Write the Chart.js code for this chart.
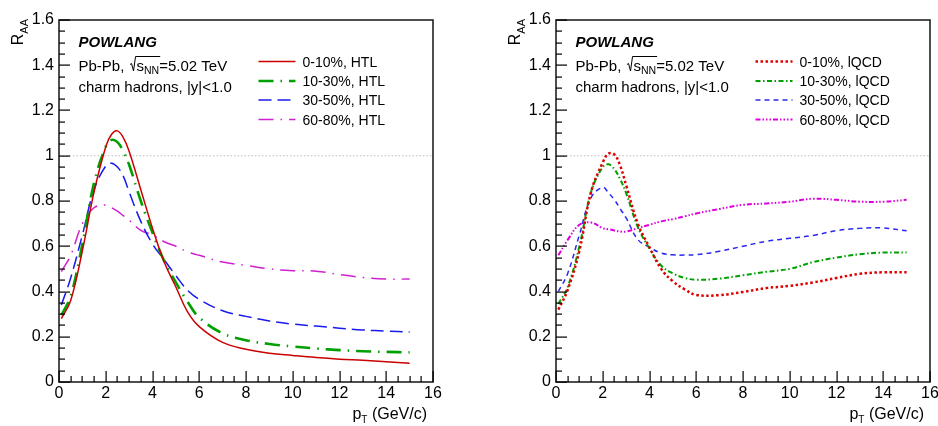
<!DOCTYPE html>
<html>
<head>
<meta charset="utf-8">
<script src="https://cdn.jsdelivr.net/npm/chart.js@4/dist/chart.umd.min.js"></script>
<style>
  html, body { margin: 0; padding: 0; background: #fff; }
  #wrap { position: relative; width: 938px; height: 426px; }
  canvas { position: absolute; top: 0; }
  #htl { left: 0; }
  #lqcd { left: 469px; }
</style>
</head>
<body>
<div id="wrap">
  <canvas id="htl" width="469" height="426"></canvas>
  <canvas id="lqcd" width="469" height="426"></canvas>
</div>
<script>
// pT grid (GeV/c) shared by all curves
const ptGrid = [0.1, 0.5, 1, 1.5, 2, 2.25, 2.5, 2.75, 3, 3.5, 4, 4.5, 5, 5.5, 6, 7, 8, 9, 10, 11, 12, 13, 14, 15];

// HTL transport coefficients
const htl_0_10  = [0.28, 0.36, 0.58, 0.84, 1.04, 1.095, 1.11, 1.08, 1.02, 0.85, 0.68, 0.53, 0.42, 0.31, 0.245, 0.175, 0.145, 0.127, 0.117, 0.108, 0.101, 0.096, 0.09, 0.083];
const htl_10_30 = [0.295, 0.38, 0.61, 0.88, 1.04, 1.07, 1.06, 1.02, 0.96, 0.80, 0.66, 0.535, 0.44, 0.355, 0.285, 0.215, 0.185, 0.168, 0.157, 0.148, 0.141, 0.136, 0.133, 0.131];
const htl_30_50 = [0.34, 0.46, 0.65, 0.85, 0.955, 0.967, 0.95, 0.91, 0.84, 0.71, 0.61, 0.54, 0.47, 0.405, 0.365, 0.315, 0.29, 0.27, 0.256, 0.247, 0.238, 0.23, 0.225, 0.221];
const htl_60_80 = [0.488, 0.56, 0.70, 0.77, 0.782, 0.77, 0.755, 0.735, 0.715, 0.67, 0.65, 0.62, 0.60, 0.575, 0.56, 0.53, 0.515, 0.50, 0.492, 0.49, 0.475, 0.462, 0.455, 0.455];

// lattice QCD transport coefficients
const lqcd_0_10  = [0.32, 0.407, 0.58, 0.84, 0.97, 1.01, 1.005, 0.955, 0.87, 0.70, 0.595, 0.50, 0.445, 0.41, 0.385, 0.384, 0.398, 0.415, 0.425, 0.44, 0.46, 0.478, 0.485, 0.485];
const lqcd_10_30 = [0.345, 0.42, 0.60, 0.84, 0.95, 0.962, 0.94, 0.895, 0.835, 0.685, 0.59, 0.515, 0.48, 0.46, 0.452, 0.457, 0.472, 0.487, 0.50, 0.53, 0.55, 0.565, 0.572, 0.572];
const lqcd_30_50 = [0.40, 0.48, 0.65, 0.815, 0.86, 0.835, 0.805, 0.765, 0.725, 0.63, 0.595, 0.57, 0.562, 0.561, 0.563, 0.578, 0.60, 0.622, 0.635, 0.648, 0.669, 0.679, 0.681, 0.668];
const lqcd_60_80 = [0.56, 0.628, 0.695, 0.705, 0.68, 0.675, 0.67, 0.665, 0.665, 0.68, 0.695, 0.71, 0.72, 0.732, 0.745, 0.765, 0.783, 0.789, 0.797, 0.81, 0.805, 0.797, 0.797, 0.805];

const centralities = ["0-10%", "10-30%", "30-50%", "60-80%"];
const unityLine = [1, 1];
const unityX = [0, 16];

const FONT = "'Liberation Sans', Arial, sans-serif";

const toPoints = (ys) => ys.map((y, i) => ({ x: ptGrid[i], y: y }));

function curve(label, ys, color, width, dash) {
    return {
        label: label,
        data: toPoints(ys),
        borderColor: color,
        borderWidth: width,
        borderDash: dash,
        borderCapStyle: "butt",
        pointRadius: 0,
        tension: 0.4,
        fill: false
    };
}

// frame, inner ticks, texts and legend in ROOT style
const rootStyle = {
    id: "rootStyle",
    afterDraw(chart) {
        const ctx = chart.ctx;
        const a = chart.chartArea;
        const xs = chart.scales.x;
        const ys = chart.scales.y;
        ctx.save();
        ctx.setLineDash([]);

        // frame
        ctx.strokeStyle = "#222";
        ctx.lineWidth = 1.6;
        ctx.strokeRect(a.left, a.top, a.right - a.left, a.bottom - a.top);

        // ticks on left and bottom axes
        ctx.fillStyle = "#000";
        for (let i = 0; i <= 32; i++) {
            const px = Math.round(xs.getPixelForValue(i * 0.5));
            const len = i % 4 === 0 ? 11 : 6;
            ctx.fillRect(px - 0.5, a.bottom - len, 1.2, len);
        }
        for (let i = 0; i <= 32; i++) {
            const py = Math.round(ys.getPixelForValue(i * 0.05));
            const len = i % 4 === 0 ? 11 : 6;
            ctx.fillRect(a.left, py - 0.5, len, 1.2);
        }

        // y title R_AA (rotated)
        ctx.save();
        ctx.translate(a.left - 36, a.top - 1);
        ctx.rotate(-Math.PI / 2);
        ctx.font = "11px " + FONT;
        const aaW = ctx.measureText("AA").width;
        ctx.textAlign = "right";
        ctx.fillText("AA", 0, 4.5);
        ctx.font = "16px " + FONT;
        ctx.fillText("R", -aaW, 0);
        ctx.restore();

        // x title p_T (GeV/c)
        ctx.font = "16px " + FONT;
        ctx.textAlign = "left";
        const rest = " (GeV/c)";
        const restW = ctx.measureText(rest).width;
        const pW = ctx.measureText("p").width;
        ctx.font = "10px " + FONT;
        const tW = ctx.measureText("T").width;
        const xEnd = a.right - 6;
        const xStart = xEnd - restW - tW - pW;
        const base = 419;
        ctx.font = "16px " + FONT;
        ctx.fillText("p", xStart, base);
        ctx.fillText(rest, xStart + pW + tW, base);
        ctx.font = "10px " + FONT;
        ctx.fillText("T", xStart + pW, base + 4);

        // annotation texts
        const tx = a.left + 19.5;
        ctx.font = "italic bold 15px " + FONT;
        ctx.fillText("POWLANG", tx, 46.5);

        ctx.font = "15px " + FONT;
        let cx = tx;
        const b2 = 70.5;
        ctx.fillText("Pb-Pb, ", cx, b2);
        cx += ctx.measureText("Pb-Pb, ").width + 1.5;
        const sW = ctx.measureText("s").width;
        ctx.font = "10.5px " + FONT;
        const nnW = ctx.measureText("NN").width;
        // radical sign
        ctx.strokeStyle = "#000";
        ctx.lineWidth = 1;
        ctx.beginPath();
        ctx.moveTo(cx, b2 - 6);
        ctx.lineTo(cx + 1.5, b2 - 7);
        ctx.lineTo(cx + 3.5, b2 + 0.5);
        ctx.lineTo(cx + 5.5, b2 - 14);
        ctx.lineTo(cx + 6.5 + sW + nnW + 1, b2 - 14);
        ctx.stroke();
        cx += 6.5;
        ctx.font = "15px " + FONT;
        ctx.fillText("s", cx, b2);
        cx += sW;
        ctx.font = "10.5px " + FONT;
        ctx.fillText("NN", cx, b2 + 3);
        cx += nnW;
        ctx.font = "15px " + FONT;
        ctx.fillText("=5.02 TeV", cx, b2);

        ctx.fillText("charm hadrons, |y|<1.0", tx, 92.3);

        // legend
        const rows = [61.5, 81, 100, 119.5];
        const lx0 = a.left + 199.5;
        const lx1 = lx0 + 37;
        const textX = a.left + 243.5;
        chart.data.datasets.slice(0, 4).forEach((ds, i) => {
            ctx.save();
            ctx.strokeStyle = ds.borderColor;
            ctx.lineWidth = ds.borderWidth;
            ctx.setLineDash(ds.borderDash || []);
            ctx.beginPath();
            ctx.moveTo(lx0, rows[i]);
            ctx.lineTo(lx1, rows[i]);
            ctx.stroke();
            ctx.restore();
            ctx.font = "14px " + FONT;
            ctx.fillStyle = "#000";
            ctx.fillText(ds.label, textX, rows[i] + 5);
        });

        ctx.restore();
    }
};

function makePanel(canvasId, yAxisWidth, rightPad, datasets) {
    datasets.push({
        label: "unity",
        data: unityX.map((v, i) => ({ x: v, y: unityLine[i] })),
        borderColor: "#bbbbbb",
        borderWidth: 1,
        borderDash: [1.5, 2],
        pointRadius: 0,
        fill: false
    });
    return new Chart(document.getElementById(canvasId), {
        type: "line",
        data: { datasets: datasets },
        options: {
            responsive: false,
            animation: false,
            layout: { padding: { top: 20, right: rightPad, left: 0, bottom: 0 } },
            plugins: { legend: { display: false }, tooltip: { enabled: false } },
            scales: {
                x: {
                    type: "linear",
                    min: 0,
                    max: 16,
                    grid: { display: false, drawTicks: false },
                    border: { display: false },
                    ticks: {
                        stepSize: 2,
                        padding: 2,
                        color: "#000",
                        font: { family: FONT, size: 16 },
                        maxRotation: 0,
                        autoSkip: false
                    },
                    afterFit(scale) {
                        scale.height = 44;
                        scale.paddingLeft = 0;
                        scale.paddingRight = 0;
                    }
                },
                y: {
                    min: 0,
                    max: 1.6,
                    grid: { display: false, drawTicks: false },
                    border: { display: false },
                    ticks: {
                        stepSize: 0.2,
                        padding: 5,
                        color: "#000",
                        font: { family: FONT, size: 16 },
                        callback: (v) => String(+v.toFixed(1))
                    },
                    afterFit(scale) {
                        scale.width = yAxisWidth;
                        scale.paddingTop = 0;
                        scale.paddingBottom = 0;
                    }
                }
            }
        },
        plugins: [rootStyle]
    });
}

makePanel("htl", 59, 36, [
    curve(centralities[0] + ", HTL", htl_0_10, "#cc0000", 1.5, []),
    curve(centralities[1] + ", HTL", htl_10_30, "#00a000", 2.6, [15, 7, 1.5, 7]),
    curve(centralities[2] + ", HTL", htl_30_50, "#1a1aee", 1.5, [13, 6]),
    curve(centralities[3] + ", HTL", htl_60_80, "#d020d0", 1.5, [15, 7, 1.5, 7])
]);

makePanel("lqcd", 87, 8, [
    curve(centralities[0] + ", lQCD", lqcd_0_10, "#e00000", 2.5, [2.5, 2.5]),
    curve(centralities[1] + ", lQCD", lqcd_10_30, "#00a000", 2, [5, 2.5, 1.5, 2.5]),
    curve(centralities[2] + ", lQCD", lqcd_30_50, "#2828f0", 1.5, [5, 4]),
    curve(centralities[3] + ", lQCD", lqcd_60_80, "#dd00dd", 2, [5, 2, 1.5, 2, 1.5, 2, 1.5, 2])
]);
</script>
</body>
</html>
